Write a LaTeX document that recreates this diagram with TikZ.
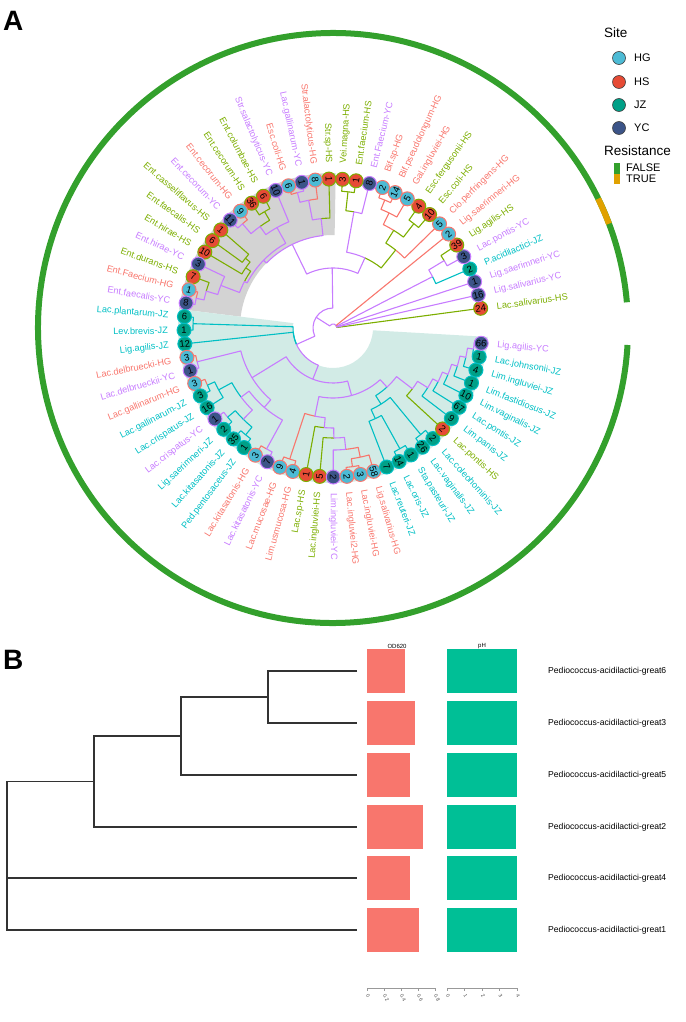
\documentclass[tikz,border=0pt]{standalone}
\usepackage{fontspec}
\setmainfont{Liberation Sans}
\definecolor{lHG}{HTML}{F8766D}
\definecolor{lHS}{HTML}{7CAE00}
\definecolor{lJZ}{HTML}{00BFC4}
\definecolor{lYC}{HTML}{C77CFF}
\definecolor{fHG}{HTML}{4DBBD5}
\definecolor{fHS}{HTML}{E64B35}
\definecolor{fJZ}{HTML}{00A087}
\definecolor{fYC}{HTML}{3C5488}
\definecolor{ringG}{HTML}{33A02C}
\definecolor{ringO}{HTML}{E0A100}
\definecolor{hlGray}{HTML}{D3D3D3}
\definecolor{hlTeal}{HTML}{D2EBE6}
\definecolor{odC}{HTML}{F8766D}
\definecolor{phC}{HTML}{00BF96}
\begin{document}
\begin{tikzpicture}[x=1pt,y=1pt,
  br/.style={line width=1.1pt, line join=round},
  tipdot/.style={circle, minimum size=14pt, inner sep=0pt, line width=1pt},
  lab/.style={font=\fontsize{9.2}{10}\selectfont, inner sep=0pt},
  num/.style={font=\fontsize{9.5}{10}\selectfont, inner sep=0pt},
  dend/.style={line width=1.3pt, draw=black!80},
  legtxt/.style={font=\fontsize{11}{12}\selectfont, anchor=west, inner sep=0pt},
  legttl/.style={font=\fontsize{13.5}{14}\selectfont, anchor=west, inner sep=0pt},
  panel/.style={font=\fontsize{28}{28}\selectfont\bfseries, anchor=west, inner sep=0pt},
]
\path[use as bounding box] (0,0) rectangle (685,-1022);
\node[panel] (pA) at (3,-21) {A};
\begin{scope}[shift={(333,-328)}]
% highlights
\fill[hlGray] (89:93) arc[start angle=89, end angle=173, radius=93pt] -- (173:155) arc[start angle=173, end angle=89, radius=155pt] -- cycle;
\fill[hlTeal] (173:40) arc[start angle=173, end angle=356.7, radius=40pt] -- (356.7:155) arc[start angle=356.7, end angle=173, radius=155pt] -- cycle;
% resistance ring
\draw[ringG, line width=6pt] (5:295) arc[start angle=5, end angle=356.7, radius=295pt];
\draw[ringO, line width=6pt] (20.7:295) arc[start angle=20.7, end angle=26, radius=295pt];
% tree edges: parent angle / parent radius / child angle / child radius / colour
\foreach \pa/\pr/\ca/\cr/\c in {
 42.07/4/7.6/149/HS, 42.07/4/12.85/149/YC, 42.07/4/18.1/149/YC, 42.07/4/27.29/112/YC, 42.07/4/39.1/149/HG, 42.07/4/147.51/20/YC,
 31.23/130/28.6/149/YC, 31.23/130/33.85/149/HS,
 27.29/112/23.35/149/JZ, 27.29/112/31.23/130/YC,
 67.98/138/65.35/149/HG, 67.98/138/70.6/149/HG,
 64.04/128/60.1/149/HG, 64.04/128/67.98/138/HG,
 52.23/132/49.6/149/HS, 52.23/132/54.85/149/HS,
 58.13/115/52.23/132/HS, 58.13/115/64.04/128/HG,
 51.24/100/44.35/149/HG, 51.24/100/58.13/115/HS,
 83.73/137/81.1/149/HS, 83.73/137/86.35/149/HS,
 79.79/118/75.85/149/YC, 79.79/118/83.73/137/HS,
 65.52/77/51.24/100/HS, 65.52/77/79.79/118/YC,
 104.73/140/102.1/149/YC, 104.73/140/107.35/149/HG,
 100.79/130/96.85/149/HG, 100.79/130/104.73/140/YC,
 96.2/110/91.6/149/HS, 96.2/110/100.79/130/YC,
 120.48/135/117.85/149/HS, 120.48/135/123.1/149/HS,
 130.98/138/128.35/149/HG, 130.98/138/133.6/149/YC,
 125.73/125/120.48/135/HS, 125.73/125/130.98/138/YC,
 119.17/115/112.6/149/YC, 119.17/115/125.73/125/YC,
 141.48/112/138.85/149/HS, 141.48/112/144.1/149/HS,
 145.41/106/141.48/112/HS, 145.41/106/149.35/149/HS,
 167.73/140/165.1/149/HG, 167.73/140/170.35/149/YC,
 163.79/132/159.85/149/HS, 163.79/132/167.73/140/YC,
 159.2/120/154.6/149/YC, 159.2/120/163.79/132/YC,
 152.3/100/145.41/106/HS, 152.3/100/159.2/120/YC,
 135.74/97/119.17/115/YC, 135.74/97/152.3/100/YC,
 115.97/93/96.2/110/YC, 115.97/93/135.74/97/YC,
 90.75/60/65.52/77/YC, 90.75/60/115.97/93/YC,
 178.23/140/175.6/149/JZ, 178.23/140/180.85/149/JZ,
 193.98/140/191.35/149/HG, 193.98/140/196.6/149/YC,
 204.48/138/201.85/149/HG, 204.48/138/207.1/149/JZ,
 208.41/130/204.48/138/JZ, 208.41/130/212.35/149/JZ,
 220.23/138/217.6/149/YC, 220.23/138/222.85/149/JZ,
 230.73/138/228.1/149/JZ, 230.73/138/233.35/149/JZ,
 225.48/128/220.23/138/JZ, 225.48/128/230.73/138/JZ,
 216.95/115/208.41/130/JZ, 216.95/115/225.48/128/YC,
 241.23/138/238.6/149/HG, 241.23/138/243.85/149/YC,
 229.09/105/216.95/115/YC, 229.09/105/241.23/138/YC,
 211.54/95/193.98/140/YC, 211.54/95/229.09/105/YC,
 251.73/138/249.1/149/HG, 251.73/138/254.35/149/HG,
 277.98/140/275.35/149/HG, 277.98/140/280.6/149/HG,
 281.91/132/277.98/140/HG, 281.91/132/285.85/149/HG,
 276.0/122/270.1/149/YC, 276.0/122/281.91/132/HG,
 270.43/110/264.85/149/HS, 270.43/110/276.0/122/YC,
 265.0/100/259.6/149/HS, 265.0/100/270.43/110/YC,
 258.37/90/251.73/138/HG, 258.37/90/265.0/100/YC,
 298.98/138/296.35/149/JZ, 298.98/138/301.6/149/JZ,
 295.04/100/291.1/149/JZ, 295.04/100/298.98/138/JZ,
 309.48/138/306.85/149/JZ, 309.48/138/312.1/149/JZ,
 302.26/90/295.04/100/JZ, 302.26/90/309.48/138/JZ,
 351.48/142/348.85/149/JZ, 351.48/142/354.1/149/YC,
 347.54/136/343.6/149/JZ, 347.54/136/351.48/142/YC,
 342.95/130/338.35/149/JZ, 342.95/130/347.54/136/YC,
 338.02/124/333.1/149/JZ, 338.02/124/342.95/130/YC,
 332.94/118/327.85/149/JZ, 332.94/118/338.02/124/YC,
 327.77/112/322.6/149/JZ, 327.77/112/332.94/118/YC,
 322.56/100/317.35/149/HS, 322.56/100/327.77/112/YC,
 312.41/80/302.26/90/JZ, 312.41/80/322.56/100/YC,
 285.39/70/258.37/90/YC, 285.39/70/312.41/80/YC,
 248.47/55/211.54/95/YC, 248.47/55/285.39/70/YC,
 204.27/40/178.23/140/JZ, 204.27/40/186.1/149/JZ, 204.27/40/248.47/55/YC,
 147.51/20/90.75/60/YC, 147.51/20/204.27/40/YC}{
  \draw[br, l\c] (\pa:\pr) arc[start angle=\pa, end angle=\ca, radius=\pr pt] -- (\ca:\cr);
}
% tips
\foreach \i/\nm/\st/\ct in {
1/Lac.salivarius-HS/HS/24, 2/Lig.salivarius-YC/YC/16, 3/Lig.saerimneri-YC/YC/1, 4/P.acidilactici-JZ/JZ/2,
5/Lac.pontis-YC/YC/3, 6/Lig.agilis-HS/HS/39, 7/Lig.saerimneri-HG/HG/2, 8/Clo.perfringens-HG/HG/5,
9/Esc.coli-HS/HS/10, 10/Esc.fergusonii-HS/HS/4, 11/Gal.ingluviei-HG/HG/5, 12/Bif.pseudolongum-HG/HG/14,
13/Bif.sp-HG/HG/2, 14/Ent.Faecium-YC/YC/8, 15/Ent.faecium-HS/HS/1, 16/Vei.magna-HS/HS/3,
17/Str.sp-HS/HS/1, 18/Str.alactolyticus-HG/HG/8, 19/Lac.gallinarum-YC/YC/1, 20/Esc.coli-HG/HG/6,
21/Str.salactolyticus-YC/YC/10, 22/Ent.columbae-HS/HS/6, 23/Ent.cecorum-HS/HS/36, 24/Ent.cecorum-HG/HG/9,
25/Ent.cecorum-YC/YC/11, 26/Ent.casseliflavus-HS/HS/1, 27/Ent.faecalis-HS/HS/6, 28/Ent.hirae-HS/HS/10,
29/Ent.hirae-YC/YC/3, 30/Ent.durans-HS/HS/7, 31/Ent.Faecium-HG/HG/1, 32/Ent.faecalis-YC/YC/8,
33/Lac.plantarum-JZ/JZ/6, 34/Lev.brevis-JZ/JZ/1, 35/Lig.agilis-JZ/JZ/12, 36/Lac.delbruecki-HG/HG/3,
37/Lac.delbrueckii-YC/YC/1, 38/Lac.gallinarum-HG/HG/3, 39/Lac.gallinarum-JZ/JZ/3, 40/Lac.crispatus-JZ/JZ/16,
41/Lac.crispatus-YC/YC/1, 42/Lig.saerimneri-JZ/JZ/2, 43/Lac.kitasatonis-JZ/JZ/35, 44/Ped.pentosaceus-JZ/JZ/1,
45/Lac.kitasatonis-HG/HG/3, 46/Lac.kitasatonis-YC/YC/7, 47/Lac.mucosae-HG/HG/9, 48/Lim.usmucosa-HG/HG/4,
49/Lac.sp-HS/HS/1, 50/Lac.ingluviei-HS/HS/5, 51/Lim.ingluviei-YC/YC/2, 52/Lac.ingluviei2-HG/HG/2,
53/Lac.ingluviei-HG/HG/3, 54/Lig.salivarius-HG/HG/58, 55/Lac.reuteri-JZ/JZ/7, 56/Lac.oris-JZ/JZ/14,
57/Sta.pasteuri-JZ/JZ/1, 58/Lac.vaginalis-JZ/JZ/26, 59/Lac.coleohominis-JZ/JZ/2, 60/Lac.pontis-HS/HS/2,
61/Lim.panis-JZ/JZ/9, 62/Lac.pontis-JZ/JZ/67, 63/Lim.vaginalis-JZ/JZ/10, 64/Lim.fastidiosus-JZ/JZ/1,
65/Lim.ingluviei-JZ/JZ/4, 66/Lac.johnsonii-JZ/JZ/1, 67/Lig.agilis-YC/YC/66}{
  \pgfmathsetmacro\ang{7.6+(\i-1)*5.25}
  \pgfmathtruncatemacro\lft{and(\ang>90,\ang<270)}
  \node[tipdot, fill=f\st, draw=l\st] (tip\i) at (\ang:149) {};
  \ifnum\lft=1
    \node[num, rotate=\ang+180] (n\i) at (tip\i) {\ct};
    \node[lab, text=l\st, anchor=east, rotate=\ang+180] (t\i) at (\ang:165) {\nm};
  \else
    \node[num, rotate=\ang] (n\i) at (tip\i) {\ct};
    \node[lab, text=l\st, anchor=west, rotate=\ang] (t\i) at (\ang:165) {\nm};
  \fi
}
\end{scope}
% legend
\node[legttl] (lgSite) at (604,-33) {Site};
\foreach \y/\s in {58/HG,82/HS,105/JZ,128/YC}{
  \node[circle, minimum size=13pt, inner sep=0pt, fill=f\s, draw=black!75, line width=0.6pt] (lg\s) at (619,-\y) {};
  \node[legtxt] (lgt\s) at (634,-\y) {\s};
}
\node[legttl] (lgRes) at (604,-151) {Resistance};
\fill[ringG] (614,-163) rectangle (620,-173.5);
\fill[ringO] (614,-173.5) rectangle (620,-184);
\node[legtxt] (lgF) at (626,-168) {FALSE};
\node[legtxt] (lgT) at (626,-179) {TRUE};
% panel B
\node[panel] (pB) at (3,-660) {B};
\node[font=\fontsize{6}{6}\selectfont] (hOD) at (397,-646) {OD620};
\node[font=\fontsize{6}{6}\selectfont] (hPH) at (482,-646) {pH};
\foreach \y/\od/\ph/\g in {671/0.45/4/6, 723/0.57/4/3, 775/0.5/4/5, 827/0.66/3.95/2, 878/0.5/4/4, 930/0.61/4/1}{
  \fill[odC] (367,-\y+22) rectangle ({367+85*\od},-\y-22);
  \fill[phC] (447,-\y+22) rectangle ({447+17.5*\ph},-\y-22);
  \node[font=\fontsize{8.6}{9}\selectfont, anchor=west, inner sep=0pt] (lb\g) at (548,-\y) {Pediococcus-acidilactici-great\g};
  \coordinate (lf\g) at (357,-\y);
}
\coordinate (d63) at (268,-697);
\coordinate (d635) at (181,-736);
\coordinate (d6352) at (94,-781.5);
\draw[dend] (lf6) -| (d63) |- (lf3);
\draw[dend] (d63) -- (181,-697) |- (lf5);
\draw[dend] (d635) -- (94,-736) |- (lf2);
\draw[dend] (d6352) -- (7,-781.5) |- (lf4);
\draw[dend] (7,-878) |- (lf1);
% axes
\draw[black!40, line width=0.3pt] (367,-988) -- (435,-988);
\draw[black!40, line width=0.3pt] (447,-988) -- (517,-988);
\foreach \k/\t in {0/0,1/0.2,2/0.4,3/0.6,4/0.8}{
  \draw[black!40, line width=0.3pt] ({367+17*\k},-988) -- ({367+17*\k},-991);
  \node[font=\fontsize{5}{5}\selectfont, rotate=-60, anchor=west, inner sep=0.5pt, text=black!70] (ao\k) at ({367+17*\k},-994) {\t};
}
\foreach \k in {0,1,2,3,4}{
  \draw[black!40, line width=0.3pt] ({447+17.5*\k},-988) -- ({447+17.5*\k},-991);
  \node[font=\fontsize{5}{5}\selectfont, rotate=-60, anchor=west, inner sep=0.5pt, text=black!70] (ap\k) at ({447+17.5*\k},-994) {\k};
}
\end{tikzpicture}
\end{document}
